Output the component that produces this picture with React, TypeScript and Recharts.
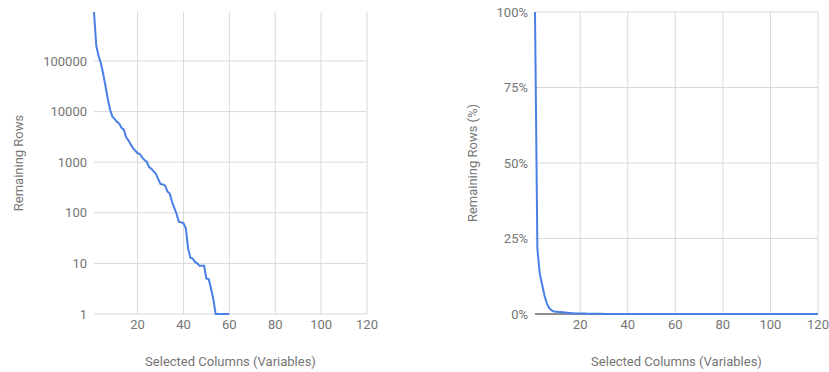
import { CartesianGrid, Line, LineChart, ReferenceLine, XAxis, YAxis } from "recharts";

// selected column count, 1..120
const columns = Array.from({ length: 120 }, (_, i) => i + 1);

// remaining rows after selecting N columns
const remainingRows = [
  930000, 200000, 125000, 90000, 56000, 32000, 18000, 11000, 8000, 7200,
  6300, 5800, 4800, 4400, 3100, 2700, 2250, 1900, 1700, 1500,
  1450, 1250, 1100, 1020, 800, 740, 660, 590, 460, 370,
  365, 345, 265, 240, 165, 125, 95, 66, 65, 62,
  50, 20, 13, 12.5, 10.7, 10, 9, 9, 9, 5,
  4.9, 3.2, 2, 1, 1, 1, 1, 1, 1, 1,
  0, 0, 0, 0, 0, 0, 0, 0, 0, 0,
  0, 0, 0, 0, 0, 0, 0, 0, 0, 0,
  0, 0, 0, 0, 0, 0, 0, 0, 0, 0,
  0, 0, 0, 0, 0, 0, 0, 0, 0, 0,
  0, 0, 0, 0, 0, 0, 0, 0, 0, 0,
  0, 0, 0, 0, 0, 0, 0, 0, 0, 0,
];

const xTicks = [20, 40, 60, 80, 100, 120];
const logTicks = [1, 10, 100, 1000, 10000, 100000];
const pctTicks = [0, 25, 50, 75, 100];

const total = remainingRows[0];
const data = columns.map((c, i) => ({
  col: c,
  rows: remainingRows[i] > 0 ? remainingRows[i] : null,
  pct: (remainingRows[i] / total) * 100,
}));

const FONT = "Roboto, sans-serif";
const TEXT = "#757575";
const GRID = "#d9d9d9";
const BLUE = "#4a7fe8";
const tick = { fill: TEXT, fontSize: 13, fontFamily: FONT };
const title = { fill: TEXT, fontSize: 13, fontFamily: FONT, textAnchor: "middle" as const };

export default function App() {
  return (
    <div style={{ position: "absolute", left: 0, top: 0, width: 829, height: 372, background: "#fff" }}>
      <div style={{ position: "absolute", left: 0, top: 0 }}>
        <LineChart width={400} height={372} data={data} margin={{ top: 12, right: 33, bottom: 0, left: 0 }}>
          <CartesianGrid stroke={GRID} strokeWidth={1} horizontalValues={logTicks} verticalValues={xTicks} />
          <XAxis
            dataKey="col"
            type="number"
            domain={[1, 120]}
            ticks={xTicks}
            axisLine={false}
            tickLine={false}
            tickSize={4}
            tick={tick}
            height={58}
            label={{ value: "Selected Columns (Variables)", position: "insideBottom", offset: 6, style: title }}
          />
          <YAxis
            scale="log"
            type="number"
            domain={[1, 930000]}
            ticks={logTicks}
            axisLine={false}
            tickLine={false}
            tickSize={5}
            tick={tick}
            width={94}
            label={{ value: "Remaining Rows", angle: -90, position: "insideLeft", offset: 18, style: title }}
          />
          <Line dataKey="rows" stroke={BLUE} strokeWidth={2} dot={false} isAnimationActive={false} />
        </LineChart>
      </div>
      <div style={{ position: "absolute", left: 430, top: 0 }}>
        <LineChart width={399} height={372} data={data} margin={{ top: 12, right: 11, bottom: 0, left: 0 }}>
          <CartesianGrid stroke={GRID} strokeWidth={1} horizontalValues={pctTicks} verticalValues={xTicks} />
          <XAxis
            dataKey="col"
            type="number"
            domain={[1, 120]}
            ticks={xTicks}
            axisLine={false}
            tickLine={false}
            tickSize={4}
            tick={tick}
            height={58}
            label={{ value: "Selected Columns (Variables)", position: "insideBottom", offset: 6, style: title }}
          />
          <YAxis
            type="number"
            domain={[0, 100]}
            ticks={pctTicks}
            tickFormatter={(v) => `${v}%`}
            axisLine={false}
            tickLine={false}
            tickSize={5}
            tick={tick}
            width={105}
            label={{ value: "Remaining Rows (%)", angle: -90, position: "insideLeft", offset: 42, style: title }}
          />
          <ReferenceLine y={0} stroke="#333" strokeWidth={1} />
          <Line dataKey="pct" stroke={BLUE} strokeWidth={2} dot={false} isAnimationActive={false} />
        </LineChart>
      </div>
    </div>
  );
}
